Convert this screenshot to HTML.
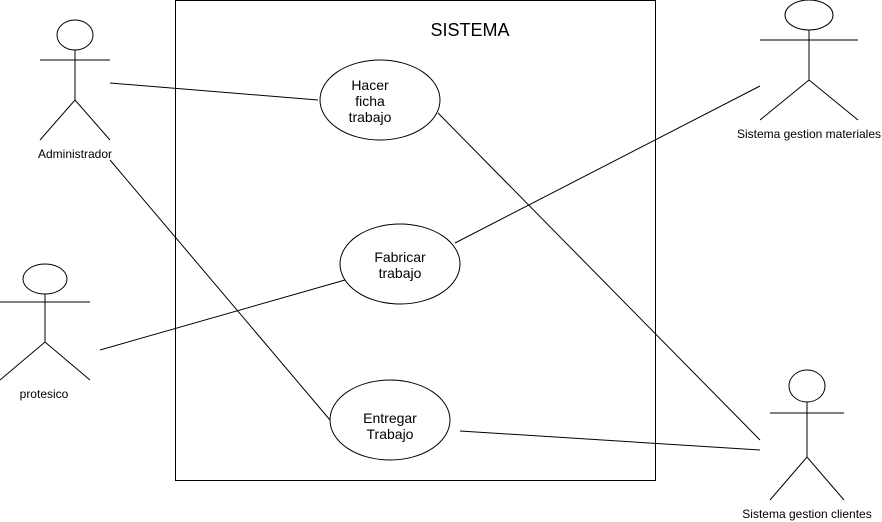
<!DOCTYPE html>
<html><head><style>body{margin:0;background:#fff}svg{display:block}</style></head>
<body>
<svg width="882" height="522" xmlns="http://www.w3.org/2000/svg" font-family="Liberation Sans, sans-serif">
<g fill="none" stroke="#000" stroke-width="1">
<rect x="175.5" y="0.5" width="480" height="480"/>
<ellipse cx="380" cy="100" rx="60" ry="40" fill="#fff"/>
<ellipse cx="400" cy="264" rx="60" ry="40" fill="#fff"/>
<ellipse cx="390" cy="420" rx="60" ry="40" fill="#fff"/>
<line x1="110" y1="83" x2="318" y2="100"/>
<line x1="110" y1="160" x2="330" y2="420"/>
<line x1="438" y1="113" x2="760" y2="440"/>
<line x1="455" y1="243" x2="760" y2="86"/>
<line x1="100" y1="350" x2="345" y2="280"/>
<line x1="460" y1="431" x2="760" y2="450"/>
<!-- Administrador -->
<ellipse cx="75" cy="35" rx="18" ry="15"/>
<line x1="75" y1="50" x2="75" y2="100"/>
<line x1="40" y1="60" x2="110" y2="60"/>
<polyline points="40,140 75,100 110,140"/>
<!-- materiales -->
<ellipse cx="809" cy="15" rx="24" ry="15"/>
<line x1="809" y1="30" x2="809" y2="80"/>
<line x1="760" y1="40" x2="858" y2="40"/>
<polyline points="760,120 809,80 858,120"/>
<!-- protesico -->
<ellipse cx="45" cy="279" rx="22" ry="15"/>
<line x1="45" y1="294" x2="45" y2="342"/>
<line x1="0" y1="302" x2="90" y2="302"/>
<polyline points="0,380 45,342 90,380"/>
<!-- clientes -->
<ellipse cx="807" cy="386" rx="18" ry="16"/>
<line x1="807" y1="402" x2="807" y2="457"/>
<line x1="770" y1="413" x2="844" y2="413"/>
<polyline points="770,500 807,457 844,500"/>
</g>
<g font-size="12" text-anchor="middle" fill="#000">
<text x="75" y="158">Administrador</text>
<text x="809" y="138">Sistema gestion materiales</text>
<text x="44" y="398">protesico</text>
<text x="807" y="518">Sistema gestion clientes</text>
</g>
<g font-size="14" text-anchor="middle" fill="#000">
<text x="370" y="90">Hacer</text>
<text x="370" y="106">ficha</text>
<text x="370" y="122">trabajo</text>
<text x="400" y="262">Fabricar</text>
<text x="400" y="278">trabajo</text>
<text x="390" y="423">Entregar</text>
<text x="390" y="439">Trabajo</text>
<text x="470" y="36" font-size="18">SISTEMA</text>
</g>
</svg>
</body></html>
